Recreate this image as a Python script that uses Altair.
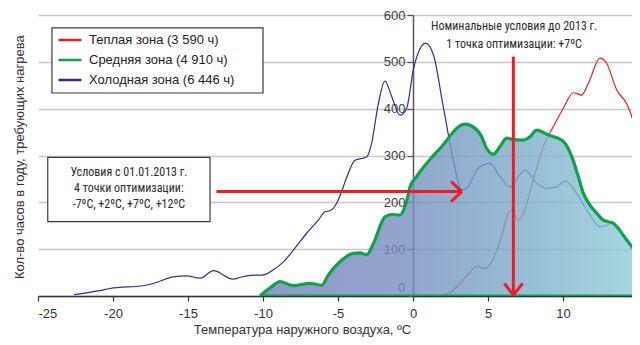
import altair as alt
import pandas as pd

WARM = "Теплая зона (3 590 ч)"
MID = "Средняя зона (4 910 ч)"
COLD = "Холодная зона (6 446 ч)"
ZONES = [WARM, MID, COLD]
ZONE_COLORS = ["#ee1d25", "#0ea34b", "#2b2f8f"]

warm_t = [1.8, 2.5, 3.13, 3.7, 4.24, 4.8, 5.24, 5.91, 6.36, 6.58, 7.02, 7.36, 8.02, 8.69,
          9.36, 10.02, 10.69, 11.24, 11.69, 12.47, 12.91, 13.58, 14.24, 14.8, 15.3]
warm_v = [0, 8, 27, 47, 63, 59, 73, 127, 178, 182, 162, 177, 248, 319,
          362, 401, 434, 429, 454, 508, 497, 440, 411, 362, 300]

mid_t = [-10.2, -9.42, -8.87, -7.98, -6.87, -6.09, -5.64, -4.87, -3.98, -3.53, -3.09, -2.64,
         -1.87, -1.42, -0.87, -0.45, -0.2, 0.24, 1.8, 3.47, 3.91, 4.58, 4.91, 5.36, 5.8,
         6.24, 6.69, 7.36, 7.8, 8.24, 9.02, 10.02, 10.58, 11.02, 11.36, 11.8, 12.24, 12.69,
         13.36, 14.24, 15.13, 15.4]
mid_v = [0, 20, 31, 22, 27, 23, 45, 73, 91, 92, 88, 112,
         169, 174, 173, 200, 233, 255, 315, 367, 363, 340, 315, 303, 319,
         337, 334, 333, 340, 354, 344, 330, 298, 255, 219, 194, 177, 162,
         155, 120, 84, 76]

cold_t = [-22.6, -21.0, -20.2, -17.8, -17.0, -16.0, -15.1, -14.2, -13.3, -12.0, -11.5, -10.87,
          -9.98, -9.31, -8.64, -7.87, -7.09, -6.31, -5.87, -5.53, -5.09, -4.76, -4.4, -3.87,
          -3.09, -2.76, -2.31, -1.87, -1.42, -0.87, -0.42, 0.02, 0.84, 1.36, 2.02, 2.69,
          3.24, 3.58, 4.36, 5.13, 5.8, 6.47, 7.02, 7.47, 8.24, 8.91, 9.58, 10.13, 10.91,
          11.58, 12.47, 13.36]
cold_v = [3, 11, 16, 23, 30, 41, 43, 38, 54, 36, 40, 44,
          45, 56, 73, 102, 134, 162, 180, 182, 198, 223, 255, 290,
          297, 326, 411, 459, 426, 386, 401, 483, 540, 515, 404, 290,
          226, 230, 273, 283, 255, 233, 255, 269, 241, 230, 233, 246, 219,
          184, 148, 158]

# annotation geometry in data units (temperature, hours)
box_x = [-24.07, -24.35]
box_x2 = [-10.0, -13.53]
box_y = [572.3, 296.2]
box_y2 = [433.5, 158.7]

arrow_x = [-13.1, 2.54, 2.54, 6.69, 6.09, 7.31]
arrow_x2 = [3.25, 3.25, 3.25, 6.69, 6.69, 6.69]
arrow_y = [223, 244.5, 201.5, 511, 27, 27]
arrow_y2 = [223, 223, 223, 2, 2, 2]

base_x = [-10.2]
base_x2 = [15.4]
base_y = [0]

note_x = [-18.94, -18.94, -18.94, 6.74, 6.74]
note_y = [265.4, 230.0, 196.5, 576.5, 537.4]
note_text = ["Условия с 01.01.2013 г.", "4 точки оптимизации:", "-7ºC, +2ºC, +7ºC, +12ºC",
             "Номинальные условия до 2013 г.", "1 точка оптимизации: +7ºC"]

x_ticks = [-25, -20, -15, -10, -5, 0, 5, 10, 15]
y_ticks = [0, 100, 200, 300, 400, 500, 600]

FONT = "Liberation Sans"
NARROW = "Roboto Condensed, Liberation Sans Narrow, DejaVu Sans Condensed, Liberation Sans"

lines_df = pd.concat([
    pd.DataFrame({"t": warm_t, "v": warm_v, "zone": WARM}),
    pd.DataFrame({"t": mid_t, "v": mid_v, "zone": MID}),
    pd.DataFrame({"t": cold_t, "v": cold_v, "zone": COLD}),
], ignore_index=True)
mid_df = pd.DataFrame({"t": mid_t, "v": mid_v})
box_df = pd.DataFrame({"t": box_x, "t2": box_x2, "v": box_y, "v2": box_y2})
arrow_df = pd.DataFrame({"t": arrow_x, "t2": arrow_x2, "v": arrow_y, "v2": arrow_y2})
base_df = pd.DataFrame({"t": base_x, "t2": base_x2, "v": base_y})
note_df = pd.DataFrame({"t": note_x, "v": note_y, "text": note_text})

xs = alt.Scale(domain=[-25, 14.6], nice=False, zero=False)
ys = alt.Scale(domain=[0, 600], nice=False, zero=False)

xaxis = alt.Axis(values=x_ticks, grid=False, domainColor="#333333", domainWidth=1.5,
                 tickSize=5, tickColor="#333333", tickWidth=1.2,
                 labelFont=FONT, labelFontSize=13, labelColor="#333333", labelPadding=6,
                 labelExpr="'' + datum.value",
                 title="Температура наружного воздуха, ºC", titleFont=FONT, titleFontSize=13,
                 titleFontWeight="normal", titleColor="#333333",
                 titleX=264, titleY=37, titleBaseline="alphabetic", titleAlign="center")
yaxis = alt.Axis(values=y_ticks, offset=-375, grid=True, gridColor="#c8c8c8", gridWidth=1.3,
                 domainColor="#555555", domainWidth=1.5,
                 tickSize=6, tickColor="#555555", tickWidth=1.2,
                 labelFont=FONT, labelFontSize=13, labelColor="#3c3c3c", labelPadding=2,
                 labelOffset={"condition": {"test": "datum.value === 0", "value": -9}, "value": 0},
                 title="Кол-во часов в году, требующих нагрева", titleFont=FONT, titleFontSize=13,
                 titleFontWeight="normal", titleColor="#333333",
                 titleX=-394, titleY=141.7, titleAngle=270, titleAlign="center",
                 titleBaseline="middle")


def X(f="t"):
    return alt.X(f, type="quantitative", scale=xs, axis=xaxis)


def Y(f="v"):
    return alt.Y(f, type="quantitative", scale=ys, axis=yaxis)


boxes = alt.Chart(box_df).mark_rect(fill="white", stroke="#3a3a3a", strokeWidth=1.2).encode(
    x=X(), x2="t2", y=Y(), y2="v2")

thin = alt.Chart(lines_df).mark_line(interpolate="monotone", strokeWidth=1.2, clip=True).encode(
    x=X(), y=Y(),
    color=alt.Color("zone:N", scale=alt.Scale(domain=ZONES, range=ZONE_COLORS),
                    legend=alt.Legend(title=None, orient="none", legendX=19, legendY=12,
                                      symbolType="stroke", symbolSize=529, symbolStrokeWidth=2.5,
                                      labelFont=FONT, labelFontSize=13, labelColor="#222222",
                                      labelOffset=6, rowPadding=-4.3, padding=0)),
    order=alt.Order("t:Q"))

grad = alt.Gradient(gradient="linear", x1=0, x2=1, y1=0, y2=0, stops=[
    alt.GradientStop(color="#767eba", offset=0),
    alt.GradientStop(color="#7790c0", offset=0.4),
    alt.GradientStop(color="#7aa9c8", offset=0.65),
    alt.GradientStop(color="#92d0d8", offset=1),
])
area = alt.Chart(mid_df).mark_area(interpolate="monotone", color=grad, opacity=0.8, clip=True).encode(
    x=X(), y=Y())

thick = alt.Chart(mid_df).mark_line(interpolate="monotone", strokeWidth=3.2, color="#0ea34b",
                                    clip=True).encode(x=X(), y=Y())

base = alt.Chart(base_df).mark_rule(strokeWidth=3.2, color="#0ea34b", clip=True).encode(
    x=X(), x2="t2", y=Y())

arrows = alt.Chart(arrow_df).mark_rule(strokeWidth=3, color="#ee1d25").encode(
    x=X(), x2="t2", y=Y(), y2="v2")

notes = alt.Chart(note_df).mark_text(font=NARROW, fontSize=12, color="#2a2a2a",
                                     align="center", baseline="middle").encode(
    x=X(), y=Y(), text="text:N")

chart = alt.layer(boxes, thin, area, thick, base, arrows, notes).properties(
    width=594, height=281,
    autosize=alt.AutoSizeParams(type="none"),
    padding={"left": 30, "top": 7, "right": 0, "bottom": 41},
).configure_view(stroke=None)

chart.save("out.html", embed_options={"renderer": "svg", "actions": False})
